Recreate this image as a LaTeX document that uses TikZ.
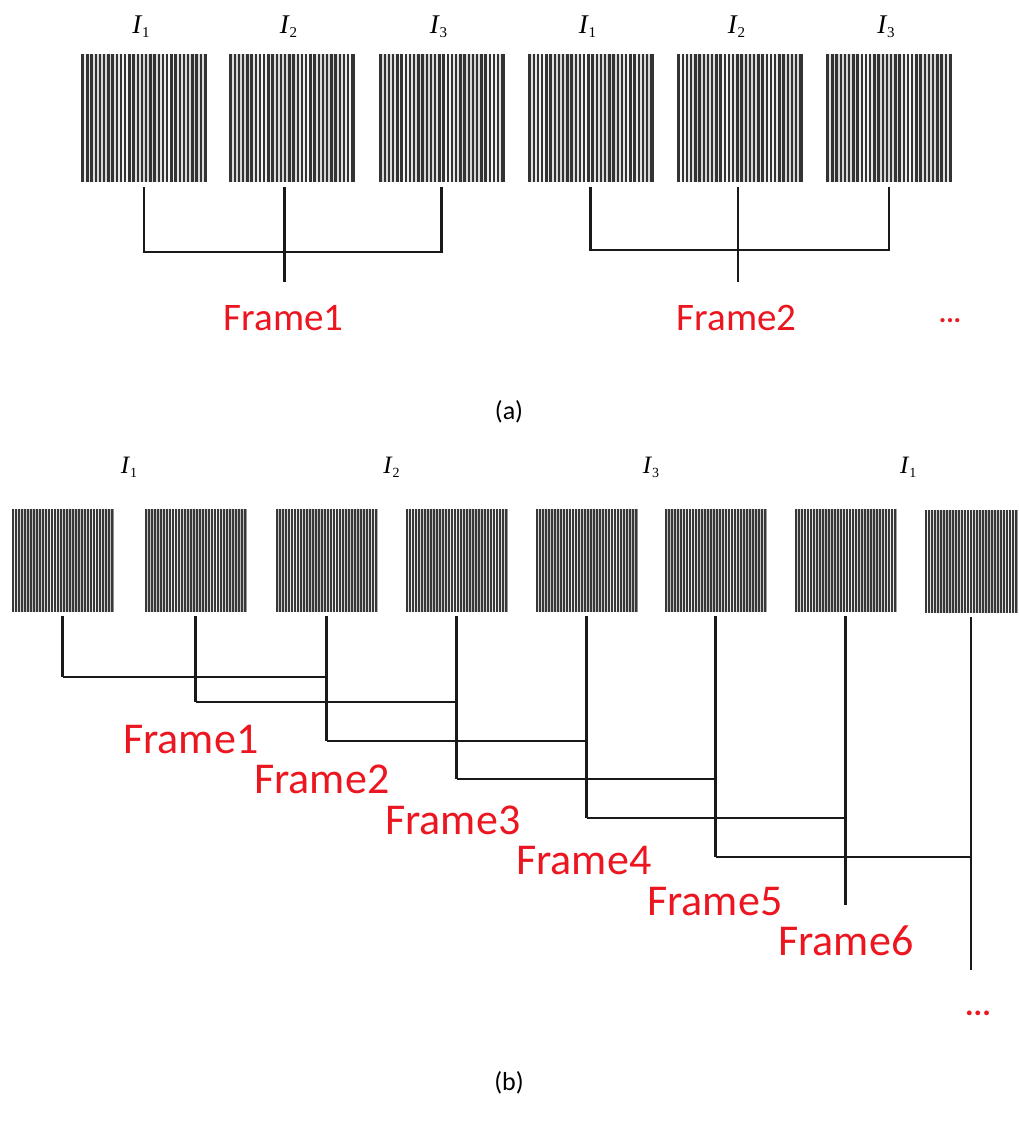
\documentclass[tikz,border=0pt]{standalone}
\usepackage{fontspec}
\setmainfont{Carlito}
\newfontfamily\tms{Liberation Serif}
\usetikzlibrary{calc}

\definecolor{framered}{RGB}{236,22,32}

% intensity label I with an upright subscript
\newcommand\IlabA[1]{{\tms\fontsize{27}{27}\selectfont\itshape I}\kern0.8pt{\tms\fontsize{15}{15}\selectfont\raisebox{-5pt}{#1}}}
\newcommand\IlabB[1]{{\tms\fontsize{25}{25}\selectfont\itshape I}\kern0.8pt{\tms\fontsize{14}{14}\selectfont\raisebox{-4.5pt}{#1}}}

\tikzset{
  conn/.style={line width=2.1pt, black!90},
  % fringe pattern, wide stripes (row a): dark ground with light gaps
  fringeA/.style={inner sep=0pt, minimum width=126pt, minimum height=128pt, fill=black!80,
    path picture={
      \foreach \k in {1,...,29}{
        \pgfmathsetmacro\shd{int(3+14*abs(sin(\k*17+#1)))}
        \draw[line width=1.8pt, black!\shd]
          ([xshift={\k*4.2pt}]path picture bounding box.north west) --
          ([xshift={\k*4.2pt}]path picture bounding box.south west);
      }}},
  % fringe pattern, narrow stripes (row b)
  fringeB/.style={inner sep=0pt, minimum width=102pt, minimum height=103pt, fill=black!78,
    path picture={
      \foreach \k in {1,...,34}{
        \pgfmathsetmacro\shd{int(4+22*abs(sin(\k*13+#1)))}
        \draw[line width=1.15pt, black!\shd]
          ([xshift={\k*3.0pt}]path picture bounding box.north west) --
          ([xshift={\k*3.0pt}]path picture bounding box.south west);
      }}},
  ilab/.style={anchor=base, inner sep=0pt},
  frameA/.style={anchor=base, inner sep=0pt, text=framered, font=\fontsize{39}{39}\selectfont},
  frameB/.style={anchor=base west, inner sep=0pt, text=framered, font=\fontsize{44}{44}\selectfont},
  dotsA/.style={anchor=base, inner sep=0pt, text=framered, font=\bfseries\fontsize{28}{28}\selectfont},
  dotsB/.style={anchor=base, inner sep=0pt, text=framered, font=\bfseries\fontsize{32}{32}\selectfont},
  caption/.style={anchor=center, inner sep=0pt, font=\fontsize{26}{26}\selectfont},
}

\begin{document}
\begin{tikzpicture}[x=1pt, y=-1pt]
  \useasboundingbox[fill=white] (0,0) rectangle (1018,1135);

  % ---------------- (a) ----------------
  \node[fringeA=0]   (A1) at (144,118)   {};
  \node[fringeA=40]  (A2) at (291.5,118) {};
  \node[fringeA=80]  (A3) at (441.5,118) {};
  \node[fringeA=120] (A4) at (590.5,118) {};
  \node[fringeA=160] (A5) at (739.5,118) {};
  \node[fringeA=200] (A6) at (889,118)   {};

  \node[ilab] (ta1) at ([xshift=-3pt]A1 |- 0,33) {\IlabA{1}};
  \node[ilab] (ta2) at ([xshift=-3pt]A2 |- 0,33) {\IlabA{2}};
  \node[ilab] (ta3) at ([xshift=-3pt]A3 |- 0,33) {\IlabA{3}};
  \node[ilab] (ta4) at ([xshift=-3pt]A4 |- 0,33) {\IlabA{1}};
  \node[ilab] (ta5) at ([xshift=-3pt]A5 |- 0,33) {\IlabA{2}};
  \node[ilab] (ta6) at ([xshift=-3pt]A6 |- 0,33) {\IlabA{3}};

  \coordinate (LA) at (0,252);
  \coordinate (MA) at (0,282);
  % frame 1
  \draw[conn] ([yshift=-5pt]A1.south) -- (A1.south |- LA) -- (A3.south |- LA) -- ([yshift=-5pt]A3.south);
  \draw[conn] ([xshift=-7pt,yshift=-5pt]A2.south) -- ([xshift=-7pt]A2.south |- MA);
  % frame 2
  \draw[conn] ([yshift=-5pt]A4.south) -- ([yshift=2pt]A4.south |- LA) -- ([yshift=2pt]A6.south |- LA) -- ([yshift=-5pt]A6.south);
  \draw[conn] ([xshift=-1.5pt,yshift=-5pt]A5.south) -- ([xshift=-1.5pt]A5.south |- MA);

  \node[frameA] (FA1) at ([xshift=-8pt]A2.south |- 0,330) {Frame1};
  \node[frameA] (FA2) at ([xshift=-3pt]A5.south |- 0,330) {Frame2};
  \node[dotsA]  (DA)  at (950,322) {...};

  \node[caption] (capA) at (509,412) {(a)};

  % ---------------- (b) ----------------
  \node[fringeB=0]   (B1) at (62.5,560.5)  {};
  \node[fringeB=50]  (B2) at (195.5,560.5) {};
  \node[fringeB=100] (B3) at (326.5,560.5) {};
  \node[fringeB=150] (B4) at (456.5,560.5) {};
  \node[fringeB=200] (B5) at (586.5,560.5) {};
  \node[fringeB=250] (B6) at (715.5,560.5) {};
  \node[fringeB=300] (B7) at (845.5,560.5) {};
  \node[fringeB=350, minimum width=93pt] (B8) at (971,561.5) {};

  % label positions between pattern pairs
  \coordinate (m12) at ($(B1)!0.5!(B2)$);
  \coordinate (m34) at ($(B3)!0.5!(B4)$);
  \coordinate (m56) at ($(B5)!0.5!(B6)$);
  \coordinate (m78) at ($(B7)!0.5!(B8)$);
  \node[ilab] (tb1) at (m12 |- 0,473) {\IlabB{1}};
  \node[ilab] (tb2) at (m34 |- 0,473) {\IlabB{2}};
  \node[ilab] (tb3) at (m56 |- 0,473) {\IlabB{3}};
  \node[ilab] (tb4) at (m78 |- 0,473) {\IlabB{1}};

  % levels of the horizontal joins, one per frame
  \coordinate (L1) at (0,677);
  \coordinate (L2) at (0,702);
  \coordinate (L3) at (0,741);
  \coordinate (L4) at (0,779);
  \coordinate (L5) at (0,818);
  \coordinate (L6) at (0,857);
  \coordinate (E7) at (0,905);
  \coordinate (E8) at (0,970);

  % stems below each pattern
  \draw[conn] ([yshift=-4pt]B1.south) -- (B1.south |- L1);
  \draw[conn] ([yshift=-4pt]B2.south) -- (B2.south |- L2);
  \draw[conn] ([yshift=-4pt]B3.south) -- (B3.south |- L3);
  \draw[conn] ([yshift=-4pt]B4.south) -- (B4.south |- L4);
  \draw[conn] ([yshift=-4pt]B5.south) -- (B5.south |- L5);
  \draw[conn] ([yshift=-4pt]B6.south) -- (B6.south |- L6);
  \draw[conn] ([yshift=-4pt]B7.south) -- (B7.south |- E7);
  \draw[conn] ([yshift=-4pt]B8.south) -- (B8.south |- E8);

  % joins: frame k groups patterns k, k+1, k+2
  \draw[conn] (B1.south |- L1) -- (B3.south |- L1);
  \draw[conn] (B2.south |- L2) -- (B4.south |- L2);
  \draw[conn] (B3.south |- L3) -- (B5.south |- L3);
  \draw[conn] (B4.south |- L4) -- (B6.south |- L4);
  \draw[conn] (B5.south |- L5) -- (B7.south |- L5);
  \draw[conn] (B6.south |- L6) -- (B8.south |- L6);

  \node[frameB] (FB1) at (123,753)   {Frame1};
  \node[frameB] (FB2) at (254,793.5) {Frame2};
  \node[frameB] (FB3) at (385,834)   {Frame3};
  \node[frameB] (FB4) at (516,874.5) {Frame4};
  \node[frameB] (FB5) at (647,915)   {Frame5};
  \node[frameB] (FB6) at (778,955.5) {Frame6};
  \node[dotsB]  (DB)  at (978,1015)  {...};

  \node[caption] (capB) at (509,1083) {(b)};
\end{tikzpicture}
\end{document}
